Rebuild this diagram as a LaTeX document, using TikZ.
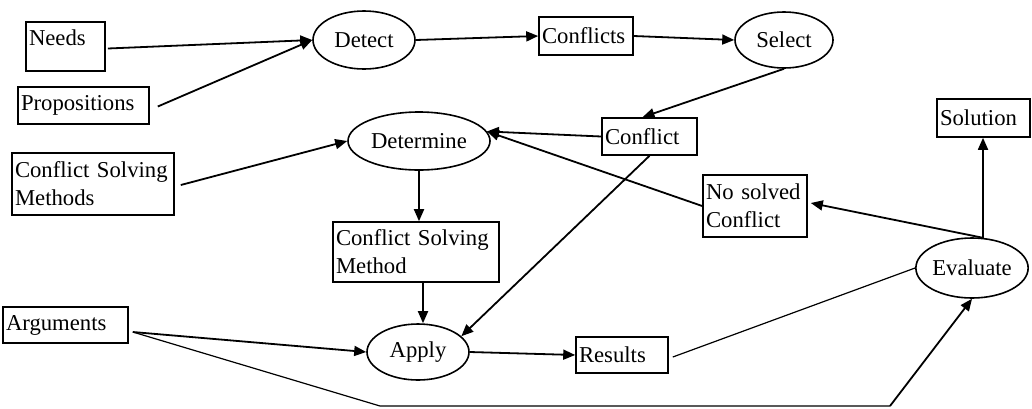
\documentclass[tikz,border=0pt]{standalone}
\usepackage{fontspec}
\setmainfont{Liberation Serif}
\usetikzlibrary{arrows.meta,shapes.geometric,calc}
\begin{document}
\begin{tikzpicture}[x=1pt,y=-1pt,
  every node/.style={font=\fontsize{22.7}{28}\selectfont},
  box/.style={draw, rectangle, line width=1.6pt, inner xsep=3pt, inner ysep=0pt, align=left},
  oval/.style={draw, ellipse, line width=1.6pt, inner sep=0pt},
  arr/.style={line width=1.8pt, -{Triangle[length=12pt,width=10pt]}},
  thinline/.style={line width=1.2pt}]
\useasboundingbox (0,0) rectangle (1032,408);
% boxes
\node[box, text width=73pt,  minimum height=49pt] (needs) at (65.5,46.5) {Needs\\[-19pt]\strut};
\node[box, text width=125pt, minimum height=37pt] (props) at (83.5,105.5) {Propositions};
\node[box, text width=156pt, minimum height=62pt] (csms) at (93,184) {Conflict Solving\\Methods};
\node[box, text width=88pt,  minimum height=38pt] (conflicts) at (586,36) {Conflicts};
\node[box, text width=89pt,  minimum height=37pt] (conflict) at (649.5,136.5) {Conflict};
\node[box, text width=98pt,  minimum height=62pt] (nosolved) at (755,206) {No solved\\Conflict};
\node[box, text width=87pt,  minimum height=38pt] (solution) at (983.5,118) {Solution};
\node[box, text width=160pt, minimum height=60pt] (csm) at (416,252) {Conflict Solving\\Method};
\node[box, text width=119pt, minimum height=36pt] (args) at (65.5,325) {Arguments};
\node[box, text width=86pt,  minimum height=36pt] (results) at (622,355) {Results};
% ellipses
\node[oval, minimum width=102pt, minimum height=58pt] (detect) at (364,40) {Detect};
\node[oval, minimum width=98pt,  minimum height=56pt] (select) at (784,40) {Select};
\node[oval, minimum width=142pt, minimum height=58pt] (determine) at (419,141) {Determine};
\node[oval, minimum width=102pt, minimum height=56pt] (apply) at (418,352) {Apply};
\node[oval, minimum width=112pt, minimum height=60pt] (evaluate) at (972,268) {Evaluate};
% helper coordinates
\coordinate (propsout) at ($(props.east)+(8,1)$);
\coordinate (csmsout) at ($(csms.east)+(6,1)$);
\coordinate (argsout) at ($(args.east)+(4,7)$);
\coordinate (resout) at ($(results.east)+(4,2)$);
\coordinate (nsin) at ($(nosolved.east)+(3,-3)$);
\coordinate (bl) at (380,406);
\coordinate (br) at (890,406);
% connectors
\draw[arr] ($(needs.east)+(2,2)$) -- (detect.west);
\draw[arr] (propsout) -- (detect.west);
\draw[arr] (detect.east) -- (conflicts.west);
\draw[arr] (conflicts.east) -- (select.west);
\draw[arr] (select.south) -- ($(conflict.north)+(-7,0)$);
\draw[arr] (csmsout) -- (determine.west);
\draw[arr] (conflict.west) -- (determine.8);
\draw[arr] (nosolved.west) -- (determine.8);
\draw[arr] (determine.south) -- (determine.south |- csm.north);
\draw[arr] ($(csm.south)+(7,0)$) -- ($(apply.north)+(5,0)$);
\draw[arr] (conflict.south) -- (apply.20);
\draw[arr] (argsout) -- (apply.west);
\draw[arr] (apply.east) -- (results.west);
\draw[thinline] (resout) -- (evaluate.west);
\draw[thinline] (argsout) -- (bl) -- (br);
\draw[arr] (br) -- (evaluate.south);
\draw[arr] (evaluate.70) -- (nsin);
\draw[arr] (evaluate.70) -- (evaluate.70 |- solution.south);
\end{tikzpicture}
\end{document}
